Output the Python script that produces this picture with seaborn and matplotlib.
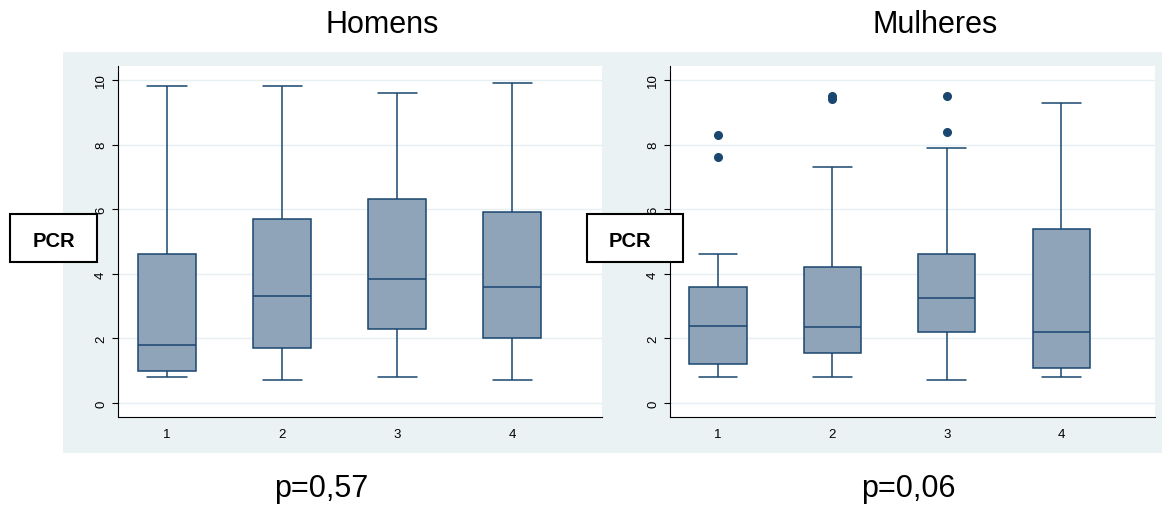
import matplotlib
matplotlib.use("Agg")
import matplotlib.pyplot as plt
import pandas as pd
import seaborn as sns
from matplotlib.patches import Rectangle

grupos = ["1", "2", "3", "4"]

# Homens: whisker min, q1, median, q3, whisker max, outliers
homens_min = [0.8, 0.7, 0.8, 0.7]
homens_q1 = [1.0, 1.7, 2.3, 2.0]
homens_med = [1.8, 3.3, 3.85, 3.6]
homens_q3 = [4.6, 5.7, 6.3, 5.9]
homens_max = [9.8, 9.8, 9.6, 9.9]
homens_out = [[], [], [], []]

# Mulheres
mulheres_min = [0.8, 0.8, 0.7, 0.8]
mulheres_q1 = [1.2, 1.55, 2.2, 1.1]
mulheres_med = [2.4, 2.35, 3.25, 2.2]
mulheres_q3 = [3.6, 4.2, 4.6, 5.4]
mulheres_max = [4.6, 7.3, 7.9, 9.3]
mulheres_out = [[7.6, 8.3], [9.4, 9.5], [8.4, 9.5], []]

titulos = ["Homens", "Mulheres"]
p_valores = ["p=0,57", "p=0,06"]

W, H = 1163, 506
BG = "#EAF2F3"
NAVY = "#1A476F"
FILL = "#8FA4B9"


def valores(mn, q1, med, q3, mx, out):
    # repeat quartiles so numpy percentiles fall exactly on them (n = 4m+1)
    m = len(out) + 1
    return [mn] + [q1] * m + [med] * m + [q3] * m + [mx] + list(out)


def montar_df(mins, q1s, meds, q3s, maxs, outs):
    rows = []
    for g, mn, q1, med, q3, mx, out in zip(grupos, mins, q1s, meds, q3s, maxs, outs):
        for v in valores(mn, q1, med, q3, mx, out):
            rows.append({"grupo": g, "pcr": v})
    return pd.DataFrame(rows)


df_h = montar_df(homens_min, homens_q1, homens_med, homens_q3, homens_max, homens_out)
df_m = montar_df(mulheres_min, mulheres_q1, mulheres_med, mulheres_q3, mulheres_max, mulheres_out)

sns.set_style("white", rc={"text.color": "black", "xtick.color": "black",
                           "ytick.color": "black", "axes.labelcolor": "black"})
plt.rcParams["font.family"] = ["Liberation Sans", "DejaVu Sans"]

fig = plt.figure(figsize=(W / 100, H / 100), dpi=100)
fig.add_artist(Rectangle((63 / W, (H - 454) / H), 1099 / W, 401 / H,
                         transform=fig.transFigure, facecolor=BG,
                         edgecolor="none", zorder=-10))

axes = [fig.add_axes([118 / W, (H - 418) / H, 484 / W, 351 / H]),
        fig.add_axes([670 / W, (H - 418) / H, 485 / W, 351 / H])]
xlims = [(-0.426, 3.78), (-0.42, 3.82)]

for ax, df, xl in zip(axes, [df_h, df_m], xlims):
    sns.boxplot(data=df, x="grupo", y="pcr", order=grupos, ax=ax,
                width=0.5, color=FILL, linecolor=NAVY, linewidth=1.1,
                saturation=1, whis=1.5, capwidths=0.34,
                flierprops=dict(marker="o", markerfacecolor=NAVY,
                                markeredgecolor=NAVY, markersize=5.5))
    ax.set_xlim(*xl)
    ax.set_ylim(-0.43, 10.43)
    ax.set_yticks([0, 2, 4, 6, 8, 10])
    ax.set_xlabel("")
    ax.set_ylabel("")
    ax.set_facecolor("white")
    ax.yaxis.grid(True, color="#E6EFF1", linewidth=1.0)
    ax.xaxis.grid(False)
    ax.set_axisbelow(True)
    for s in ["top", "right"]:
        ax.spines[s].set_visible(False)
    for s in ["left", "bottom"]:
        ax.spines[s].set_color("black")
        ax.spines[s].set_linewidth(0.8)
    ax.tick_params(axis="y", direction="out", length=4.3, width=0.8,
                   color="black", labelcolor="black", labelsize=9.5, pad=3.5,
                   labelrotation=90, left=True)
    ax.tick_params(axis="x", length=0, pad=8, labelsize=9.5, labelcolor="black")
    for lab in ax.get_yticklabels():
        lab.set_va("center")

# titles and p-values
fig.text(382 / W, 1 - 33 / H, titulos[0], ha="center", va="baseline", fontsize=22, color="black")
fig.text(935 / W, 1 - 33 / H, titulos[1], ha="center", va="baseline", fontsize=22, color="black")
fig.text(321.5 / W, 1 - 497 / H, p_valores[0], ha="center", va="baseline", fontsize=22, color="black")
fig.text(908 / W, 1 - 497 / H, p_valores[1], ha="center", va="baseline", fontsize=22, color="black")

# PCR labels in boxes
for x0, x1, xc in [(10, 97, 53.5), (587, 683, 629.5)]:
    fig.add_artist(Rectangle((x0 / W, (H - 263) / H), (x1 - x0) / W, 48 / H,
                             transform=fig.transFigure, facecolor="white",
                             edgecolor="black", linewidth=1.5, zorder=5))
    fig.text(xc / W, 1 - 247 / H, "PCR", ha="center", va="baseline",
             fontsize=14.5, fontweight="bold", color="black", zorder=6)

fig.savefig("out.png", dpi=100)
